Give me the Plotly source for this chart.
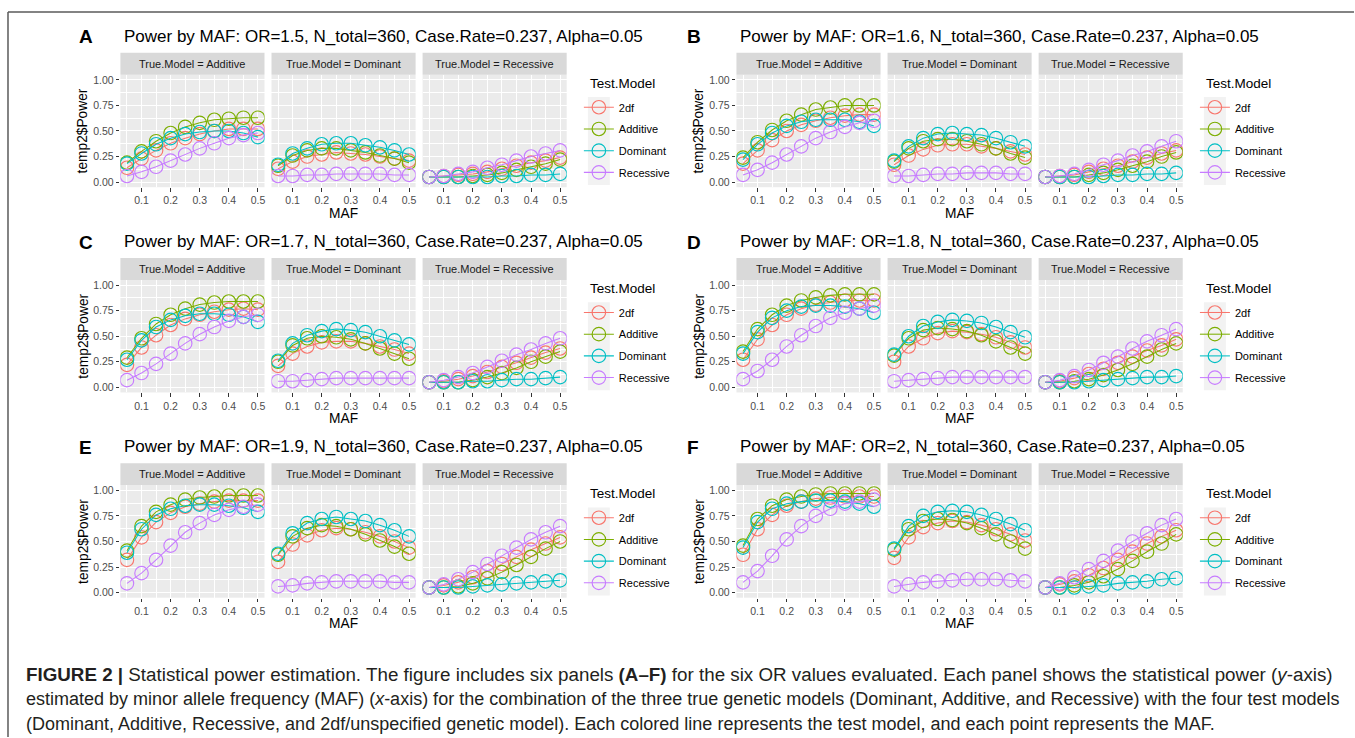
import plotly.graph_objects as go

W, H = 1355, 738

MAF = [0.05, 0.10, 0.15, 0.20, 0.25, 0.30, 0.35, 0.40, 0.45, 0.50]
OR_LABELS = ["1.5", "1.6", "1.7", "1.8", "1.9", "2"]
PANEL_LETTERS = ["A", "B", "C", "D", "E", "F"]
TRUE_MODELS = ["Additive", "Dominant", "Recessive"]
TEST_MODELS = ["2df", "Additive", "Dominant", "Recessive"]
TEST_COLORS = ["#F8766D", "#7CAE00", "#00BFC4", "#C77CFF"]
X_TICKS = [0.1, 0.2, 0.3, 0.4, 0.5]
X_TICK_LABELS = ["0.1", "0.2", "0.3", "0.4", "0.5"]
X_MINOR = [0.05, 0.15, 0.25, 0.35, 0.45]
Y_TICKS = [0.0, 0.25, 0.5, 0.75, 1.0]
Y_TICK_LABELS = ["0.00", "0.25", "0.50", "0.75", "1.00"]
Y_MINOR = [0.125, 0.375, 0.625, 0.875]

# ---- Power values ----
# OR = 1.5
OR15_TRUE_ADDITIVE = {
    "2df":       [0.14, 0.23, 0.31, 0.38, 0.43, 0.47, 0.50, 0.52, 0.52, 0.52],
    "Additive":  [0.19, 0.30, 0.40, 0.48, 0.54, 0.58, 0.61, 0.62, 0.63, 0.63],
    "Dominant":  [0.18, 0.28, 0.37, 0.43, 0.47, 0.49, 0.50, 0.50, 0.48, 0.44],
    "Recessive": [0.06, 0.10, 0.15, 0.21, 0.27, 0.33, 0.38, 0.43, 0.46, 0.48],
}
OR15_TRUE_DOMINANT = {
    "2df":       [0.13, 0.20, 0.25, 0.27, 0.29, 0.28, 0.27, 0.25, 0.23, 0.21],
    "Additive":  [0.16, 0.26, 0.31, 0.33, 0.33, 0.31, 0.29, 0.26, 0.23, 0.19],
    "Dominant":  [0.17, 0.28, 0.33, 0.37, 0.38, 0.38, 0.36, 0.34, 0.31, 0.27],
    "Recessive": [0.06, 0.06, 0.07, 0.07, 0.08, 0.08, 0.08, 0.08, 0.07, 0.07],
}
OR15_TRUE_RECESSIVE = {
    "2df":       [0.05, 0.06, 0.07, 0.08, 0.10, 0.13, 0.16, 0.19, 0.21, 0.24],
    "Additive":  [0.05, 0.05, 0.05, 0.06, 0.07, 0.09, 0.12, 0.15, 0.18, 0.22],
    "Dominant":  [0.05, 0.05, 0.05, 0.05, 0.05, 0.06, 0.06, 0.07, 0.07, 0.08],
    "Recessive": [0.05, 0.06, 0.08, 0.10, 0.14, 0.17, 0.21, 0.25, 0.28, 0.31],
}
# OR = 1.6
OR16_TRUE_ADDITIVE = {
    "2df":       [0.18, 0.31, 0.41, 0.50, 0.56, 0.60, 0.63, 0.65, 0.66, 0.66],
    "Additive":  [0.24, 0.39, 0.51, 0.60, 0.66, 0.71, 0.73, 0.75, 0.75, 0.75],
    "Dominant":  [0.22, 0.37, 0.48, 0.55, 0.59, 0.61, 0.61, 0.61, 0.59, 0.55],
    "Recessive": [0.07, 0.12, 0.19, 0.27, 0.35, 0.43, 0.49, 0.54, 0.58, 0.60],
}
OR16_TRUE_DOMINANT = {
    "2df":       [0.17, 0.26, 0.32, 0.36, 0.37, 0.37, 0.35, 0.33, 0.30, 0.27],
    "Additive":  [0.20, 0.33, 0.40, 0.42, 0.42, 0.40, 0.37, 0.33, 0.28, 0.24],
    "Dominant":  [0.21, 0.35, 0.43, 0.47, 0.48, 0.47, 0.46, 0.43, 0.39, 0.35],
    "Recessive": [0.06, 0.06, 0.07, 0.08, 0.08, 0.09, 0.09, 0.09, 0.08, 0.08],
}
OR16_TRUE_RECESSIVE = {
    "2df":       [0.05, 0.06, 0.07, 0.10, 0.13, 0.16, 0.20, 0.24, 0.28, 0.31],
    "Additive":  [0.05, 0.05, 0.05, 0.07, 0.09, 0.12, 0.16, 0.20, 0.25, 0.29],
    "Dominant":  [0.05, 0.05, 0.05, 0.05, 0.06, 0.07, 0.07, 0.08, 0.08, 0.09],
    "Recessive": [0.05, 0.06, 0.08, 0.12, 0.17, 0.21, 0.26, 0.30, 0.35, 0.40],
}
# OR = 1.7
OR17_TRUE_ADDITIVE = {
    "2df":       [0.22, 0.39, 0.51, 0.61, 0.67, 0.71, 0.74, 0.76, 0.77, 0.76],
    "Additive":  [0.29, 0.48, 0.62, 0.71, 0.77, 0.81, 0.83, 0.84, 0.84, 0.84],
    "Dominant":  [0.27, 0.46, 0.59, 0.66, 0.70, 0.72, 0.72, 0.71, 0.69, 0.64],
    "Recessive": [0.07, 0.14, 0.23, 0.33, 0.43, 0.52, 0.59, 0.65, 0.69, 0.71],
}
OR17_TRUE_DOMINANT = {
    "2df":       [0.21, 0.33, 0.40, 0.44, 0.45, 0.45, 0.43, 0.40, 0.37, 0.33],
    "Additive":  [0.25, 0.41, 0.48, 0.50, 0.49, 0.47, 0.43, 0.38, 0.33, 0.28],
    "Dominant":  [0.26, 0.43, 0.51, 0.55, 0.57, 0.56, 0.54, 0.50, 0.46, 0.42],
    "Recessive": [0.06, 0.06, 0.07, 0.08, 0.09, 0.09, 0.09, 0.09, 0.09, 0.09],
}
OR17_TRUE_RECESSIVE = {
    "2df":       [0.05, 0.06, 0.08, 0.11, 0.15, 0.20, 0.24, 0.29, 0.34, 0.38],
    "Additive":  [0.05, 0.05, 0.05, 0.07, 0.10, 0.14, 0.19, 0.25, 0.30, 0.35],
    "Dominant":  [0.05, 0.05, 0.05, 0.06, 0.06, 0.07, 0.08, 0.08, 0.09, 0.10],
    "Recessive": [0.05, 0.07, 0.10, 0.14, 0.20, 0.26, 0.32, 0.37, 0.43, 0.48],
}
# OR = 1.8
OR18_TRUE_ADDITIVE = {
    "2df":       [0.27, 0.47, 0.61, 0.71, 0.77, 0.81, 0.83, 0.85, 0.85, 0.85],
    "Additive":  [0.35, 0.57, 0.71, 0.80, 0.85, 0.88, 0.90, 0.91, 0.91, 0.91],
    "Dominant":  [0.33, 0.54, 0.68, 0.75, 0.79, 0.80, 0.80, 0.79, 0.77, 0.73],
    "Recessive": [0.08, 0.16, 0.27, 0.40, 0.51, 0.60, 0.68, 0.73, 0.77, 0.80],
}
OR18_TRUE_DOMINANT = {
    "2df":       [0.25, 0.40, 0.48, 0.53, 0.55, 0.54, 0.52, 0.49, 0.44, 0.39],
    "Additive":  [0.31, 0.48, 0.56, 0.58, 0.57, 0.55, 0.51, 0.45, 0.39, 0.33],
    "Dominant":  [0.32, 0.50, 0.60, 0.64, 0.66, 0.65, 0.63, 0.59, 0.54, 0.49],
    "Recessive": [0.06, 0.07, 0.08, 0.09, 0.10, 0.10, 0.10, 0.10, 0.10, 0.10],
}
OR18_TRUE_RECESSIVE = {
    "2df":       [0.05, 0.06, 0.09, 0.13, 0.18, 0.24, 0.30, 0.36, 0.41, 0.47],
    "Additive":  [0.05, 0.05, 0.06, 0.08, 0.12, 0.17, 0.23, 0.30, 0.37, 0.43],
    "Dominant":  [0.05, 0.05, 0.05, 0.06, 0.07, 0.08, 0.09, 0.10, 0.10, 0.11],
    "Recessive": [0.05, 0.07, 0.11, 0.17, 0.24, 0.30, 0.38, 0.45, 0.51, 0.57],
}
# OR = 1.9
OR19_TRUE_ADDITIVE = {
    "2df":       [0.32, 0.54, 0.69, 0.78, 0.84, 0.87, 0.89, 0.90, 0.90, 0.90],
    "Additive":  [0.41, 0.65, 0.79, 0.86, 0.91, 0.93, 0.94, 0.95, 0.95, 0.95],
    "Dominant":  [0.39, 0.62, 0.76, 0.82, 0.85, 0.86, 0.86, 0.85, 0.83, 0.79],
    "Recessive": [0.09, 0.19, 0.32, 0.46, 0.59, 0.68, 0.76, 0.81, 0.84, 0.86],
}
OR19_TRUE_DOMINANT = {
    "2df":       [0.30, 0.47, 0.56, 0.61, 0.63, 0.62, 0.59, 0.55, 0.50, 0.44],
    "Additive":  [0.37, 0.55, 0.63, 0.66, 0.65, 0.62, 0.57, 0.51, 0.45, 0.38],
    "Dominant":  [0.38, 0.58, 0.68, 0.72, 0.74, 0.72, 0.70, 0.66, 0.61, 0.55],
    "Recessive": [0.06, 0.07, 0.09, 0.10, 0.11, 0.11, 0.11, 0.11, 0.10, 0.10],
}
OR19_TRUE_RECESSIVE = {
    "2df":       [0.05, 0.07, 0.10, 0.15, 0.21, 0.28, 0.35, 0.42, 0.48, 0.54],
    "Additive":  [0.05, 0.05, 0.06, 0.09, 0.14, 0.20, 0.27, 0.35, 0.43, 0.50],
    "Dominant":  [0.05, 0.05, 0.05, 0.06, 0.07, 0.08, 0.09, 0.10, 0.11, 0.12],
    "Recessive": [0.05, 0.08, 0.13, 0.20, 0.28, 0.36, 0.44, 0.52, 0.59, 0.65],
}
# OR = 2
OR20_TRUE_ADDITIVE = {
    "2df":       [0.37, 0.62, 0.76, 0.85, 0.89, 0.92, 0.93, 0.94, 0.94, 0.94],
    "Additive":  [0.46, 0.72, 0.85, 0.91, 0.94, 0.96, 0.97, 0.97, 0.97, 0.97],
    "Dominant":  [0.44, 0.69, 0.82, 0.87, 0.89, 0.90, 0.90, 0.89, 0.87, 0.84],
    "Recessive": [0.10, 0.21, 0.36, 0.52, 0.65, 0.75, 0.82, 0.87, 0.89, 0.91],
}
OR20_TRUE_DOMINANT = {
    "2df":       [0.34, 0.54, 0.64, 0.68, 0.70, 0.69, 0.66, 0.62, 0.57, 0.51],
    "Additive":  [0.42, 0.62, 0.70, 0.72, 0.71, 0.68, 0.63, 0.57, 0.50, 0.43],
    "Dominant":  [0.43, 0.65, 0.75, 0.79, 0.80, 0.79, 0.76, 0.72, 0.67, 0.61],
    "Recessive": [0.06, 0.08, 0.10, 0.11, 0.12, 0.13, 0.13, 0.13, 0.12, 0.11],
}
OR20_TRUE_RECESSIVE = {
    "2df":       [0.05, 0.08, 0.11, 0.17, 0.24, 0.32, 0.40, 0.48, 0.55, 0.61],
    "Additive":  [0.05, 0.05, 0.07, 0.10, 0.16, 0.23, 0.31, 0.40, 0.48, 0.57],
    "Dominant":  [0.05, 0.05, 0.05, 0.06, 0.07, 0.09, 0.10, 0.11, 0.13, 0.14],
    "Recessive": [0.05, 0.09, 0.15, 0.23, 0.31, 0.41, 0.50, 0.58, 0.66, 0.72],
}

POWER = [
    [OR15_TRUE_ADDITIVE, OR15_TRUE_DOMINANT, OR15_TRUE_RECESSIVE],
    [OR16_TRUE_ADDITIVE, OR16_TRUE_DOMINANT, OR16_TRUE_RECESSIVE],
    [OR17_TRUE_ADDITIVE, OR17_TRUE_DOMINANT, OR17_TRUE_RECESSIVE],
    [OR18_TRUE_ADDITIVE, OR18_TRUE_DOMINANT, OR18_TRUE_RECESSIVE],
    [OR19_TRUE_ADDITIVE, OR19_TRUE_DOMINANT, OR19_TRUE_RECESSIVE],
    [OR20_TRUE_ADDITIVE, OR20_TRUE_DOMINANT, OR20_TRUE_RECESSIVE],
]

CAPTION_LINES = [
    "<b>FIGURE 2 |</b> Statistical power estimation. The figure includes six panels <b>(A–F)</b> "
    "for the six OR values evaluated. Each panel shows the statistical power (<i>y</i>-axis)",
    "estimated by minor allele frequency (MAF) (<i>x</i>-axis) for the combination of the three "
    "true genetic models (Dominant, Additive, and Recessive) with the four test models",
    "(Dominant, Additive, Recessive, and 2df/unspecified genetic model). Each colored line "
    "represents the test model, and each point represents the MAF.",
]
CAPTION_SIZES = [18.8, 18.0, 18.0]

# ---- geometry (pixels) ----
FONT = "Liberation Sans, Arial, Helvetica, sans-serif"
COL_X0 = [120.5, 271.7, 422.9]
PANEL_W = 144.2
GROUP_DX = [0.0, 616.5]
ROW_DY = 205.8
PANEL_TOP = 74.0
PANEL_H = 112.7
STRIP_TOP = 52.0


def fx(px):
    return px / W


def fy(py):
    return 1 - py / H


fig = go.Figure()
shapes = []
annotations = []
layout_axes = {}

for p in range(6):
    row, grp = divmod(p, 2)
    dx = GROUP_DX[grp]
    dy = row * ROW_DY
    legend_name = "legend" if p == 0 else f"legend{p + 1}"

    for j, true_model in enumerate(TRUE_MODELS):
        k = p * 3 + j + 1
        xa = "xaxis" if k == 1 else f"xaxis{k}"
        ya = "yaxis" if k == 1 else f"yaxis{k}"
        xr = "x" if k == 1 else f"x{k}"
        yr = "y" if k == 1 else f"y{k}"
        x0 = COL_X0[j] + dx
        x1 = x0 + PANEL_W
        y0 = PANEL_TOP + dy
        y1 = y0 + PANEL_H
        layout_axes[xa] = dict(
            domain=[fx(x0), fx(x1)], anchor=yr, range=[0.0275, 0.5225],
            tickmode="array", tickvals=X_TICKS, ticktext=X_TICK_LABELS,
            ticks="outside", ticklen=3.7, tickwidth=1.07, tickcolor="#333333",
            tickfont=dict(size=10.5, color="#4D4D4D", family=FONT),
            showgrid=True, gridcolor="white", gridwidth=1.07,
            minor=dict(tickmode="array", tickvals=X_MINOR, showgrid=True,
                       gridcolor="white", gridwidth=0.55, ticks=""),
            zeroline=False, showline=False, fixedrange=True,
        )
        layout_axes[ya] = dict(
            domain=[fy(y1), fy(y0)], anchor=xr, range=[-0.05, 1.05],
            tickmode="array", tickvals=Y_TICKS, ticktext=Y_TICK_LABELS,
            showticklabels=(j == 0),
            ticks="outside" if j == 0 else "", ticklen=3.7, tickwidth=1.07,
            tickcolor="#333333",
            tickfont=dict(size=10.5, color="#4D4D4D", family=FONT),
            showgrid=True, gridcolor="white", gridwidth=1.07,
            minor=dict(tickmode="array", tickvals=Y_MINOR, showgrid=True,
                       gridcolor="white", gridwidth=0.55, ticks=""),
            zeroline=False, showline=False, fixedrange=True,
        )
        # strip
        shapes.append(dict(type="rect", xref="paper", yref="paper",
                           x0=fx(x0), x1=fx(x1), y0=fy(y0), y1=fy(STRIP_TOP + dy),
                           fillcolor="#D9D9D9", line=dict(width=0), layer="below"))
        annotations.append(dict(text=f"True.Model = {true_model}", xref="paper", yref="paper",
                                x=fx((x0 + x1) / 2), y=fy((STRIP_TOP + dy + y0) / 2),
                                xanchor="center", yanchor="middle", showarrow=False,
                                font=dict(size=11, color="#1A1A1A", family=FONT)))
        data = POWER[p][j]
        for t, test in enumerate(TEST_MODELS):
            fig.add_trace(go.Scatter(
                x=MAF, y=data[test], xaxis=xr, yaxis=yr,
                mode="lines+markers", name=test,
                line=dict(color=TEST_COLORS[t], width=1.05),
                marker=dict(symbol="circle-open", size=13.5, color=TEST_COLORS[t],
                            line=dict(width=1.15, color=TEST_COLORS[t])),
                legend=legend_name, legendgroup=test,
                showlegend=(j == 0), hoverinfo="x+y+name",
            ))

    # panel letter and title
    annotations.append(dict(text=f"<b>{PANEL_LETTERS[p]}</b>", xref="paper", yref="paper",
                            x=fx((77.5 if grp == 0 else 686.0)), y=fy(36 + dy),
                            xanchor="left", yanchor="middle", showarrow=False,
                            font=dict(size=19, color="black", family=FONT)))
    annotations.append(dict(
        text=f"Power by MAF: OR={OR_LABELS[p]}, N_total=360, Case.Rate=0.237, Alpha=0.05",
        xref="paper", yref="paper", x=fx(122 + dx), y=fy(35.5 + dy),
        xanchor="left", yanchor="middle", showarrow=False,
        font=dict(size=17, color="black", family=FONT)))
    # axis titles
    annotations.append(dict(text="temp2$Power", xref="paper", yref="paper",
                            x=fx(83.5 + dx), y=fy(PANEL_TOP + dy + PANEL_H / 2),
                            xanchor="center", yanchor="middle", textangle=-90, showarrow=False,
                            font=dict(size=13.75, color="black", family=FONT)))
    annotations.append(dict(text="MAF", xref="paper", yref="paper",
                            x=fx((COL_X0[0] + COL_X0[2] + PANEL_W) / 2 + dx), y=fy(213 + dy),
                            xanchor="center", yanchor="middle", showarrow=False,
                            font=dict(size=13.75, color="black", family=FONT)))
    # legend title + key background
    annotations.append(dict(text="Test.Model", xref="paper", yref="paper",
                            x=fx(588.3 + dx), y=fy(82.7 + dy),
                            xanchor="left", yanchor="middle", showarrow=False,
                            font=dict(size=13.5, color="black", family=FONT)))
    shapes.append(dict(type="rect", xref="paper", yref="paper",
                       x0=fx(588.3 + dx), x1=fx(610.3 + dx),
                       y0=fy(184.5 + dy), y1=fy(96.3 + dy),
                       fillcolor="#F2F2F2", line=dict(width=0), layer="below"))
    layout_axes[legend_name] = dict(
        x=fx(579.3 + dx), y=fy(92.0 + dy), xanchor="left", yanchor="top",
        bgcolor="rgba(0,0,0,0)", borderwidth=0, tracegroupgap=2.7,
        traceorder="grouped", itemsizing="trace", itemwidth=30,
        font=dict(size=11, color="black", family=FONT),
        title=dict(text=""), itemclick=False, itemdoubleclick=False,
    )

# caption
for i, line in enumerate(CAPTION_LINES):
    annotations.append(dict(text=line, xref="paper", yref="paper",
                            x=fx(24), y=fy(675 + 25.2 * i), xanchor="left", yanchor="middle",
                            showarrow=False,
                            font=dict(size=CAPTION_SIZES[i], color="#231F20", family=FONT)))

# frame lines
shapes.append(dict(type="line", xref="paper", yref="paper",
                   x0=fx(8), x1=1.0, y0=fy(11), y1=fy(11),
                   line=dict(color="#5A5A5A", width=1.5)))
shapes.append(dict(type="line", xref="paper", yref="paper",
                   x0=fx(8), x1=fx(8), y0=fy(11), y1=0.0,
                   line=dict(color="#5A5A5A", width=1.5)))

fig.update_layout(
    width=W, height=H, autosize=False,
    margin=dict(l=0, r=0, t=0, b=0),
    paper_bgcolor="white", plot_bgcolor="#EBEBEB",
    font=dict(family=FONT, color="black"),
    shapes=shapes, annotations=annotations,
    showlegend=True,
    **layout_axes,
)

fig.write_html(
    "out.html",
    config={"displayModeBar": False},
    post_script="document.body.style.margin='0';document.body.style.overflow='hidden';",
)
